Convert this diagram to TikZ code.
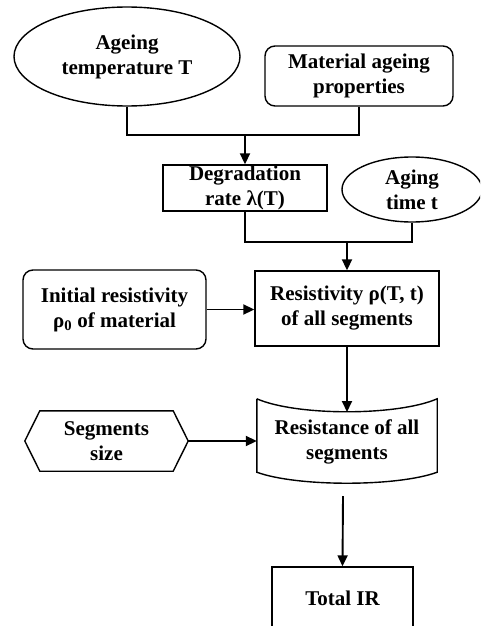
\documentclass[tikz,border=0pt]{standalone}
\usepackage{fontspec}
\setmainfont{Liberation Serif}
\usetikzlibrary{calc}
\usetikzlibrary{arrows.meta}
\usetikzlibrary{shapes.geometric}

\tikzset{
 lbl/.style={font=\fontsize{21}{25}\selectfont\bfseries, align=center, inner sep=0pt},
 oval/.style={lbl, ellipse, draw, line width=1.4pt},
 roundbox/.style={lbl, rectangle, rounded corners=10pt, draw, line width=1.4pt},
 plainbox/.style={lbl, rectangle, draw, line width=1.4pt},
 flow/.style={line width=1.9pt, ->, >={Triangle[length=11pt,width=10pt]}},
 link/.style={line width=1.9pt},
}

\begin{document}
\begin{tikzpicture} [x=1pt, y=-1pt]
\useasboundingbox (0,0) rectangle (480,626);
\clip (0,0) rectangle (480,626);
% inputs of the degradation rate
\node[oval, minimum width=226, minimum height=99] (temp) at (127,56.5) {Ageing\\temperature T};
\node[roundbox, minimum width=188, minimum height=60] (mat) at (359,76) {Material ageing\\properties};
\node[plainbox, minimum width=164, minimum height=46] (deg) at (245,188) {Degradation\\rate λ(T)};
\node[oval, minimum width=140, minimum height=65] (time) at (412,189.5) {Aging\\time t};
% resistivity
\node[plainbox, minimum width=184, minimum height=75] (rho) at (347,308.5) {Resistivity ρ(T, t)\\of all segments};
\node[roundbox, minimum width=183, minimum height=79] (init) at (114.5,309.5) {Initial resistivity\\ρ\textsubscript{0} of material};
% resistance
\node[lbl, minimum width=180, minimum height=73] (cyl) at (347,435.5) {};
\draw[line width=1.4pt] (cyl.north west) -- (cyl.south west)
  .. controls ($(cyl.south west)+(40,14.7)$) and ($(cyl.south east)+(-40,14.7)$) .. (cyl.south east)
  -- (cyl.north east)
  .. controls ($(cyl.north east)+(-40,17.3)$) and ($(cyl.north west)+(40,17.3)$) .. (cyl.north west);
\node[lbl] (cyltxt) at (347,442) {Resistance of all\\segments};
\node[lbl, minimum width=163, minimum height=60] (seg) at (106.5,441) {Segments\\size};
\draw[line width=1.4pt] ($(seg.north west)+(15,0)$) -- ($(seg.north east)+(-15,0)$) -- (seg.east)
  -- ($(seg.south east)+(-15,0)$) -- ($(seg.south west)+(15,0)$) -- (seg.west) -- cycle;
\node[plainbox, minimum width=141, minimum height=62] (tot) at (342.5,598) {Total IR};

% connectors
\coordinate (j1) at (245,135);
\coordinate (j2) at (347,242);
\coordinate (cyltop) at (347,412);
\coordinate (cylout) at (343,496);
\draw[link] (temp.south) |- (j1) -| (mat.south);
\draw[flow] (j1) -- (deg.north);
\draw[link] (deg.south) |- (j2) -| (time.south);
\draw[flow] (j2) -- (rho.north);
\draw[flow] (init.east) -- (init.east -| rho.west);
\draw[flow] (rho.south) -- (cyltop);
\draw[flow] (seg.east) -- (seg.east -| cyl.west);
\draw[flow] (cylout) -- (tot.north);
\end{tikzpicture}
\end{document}
